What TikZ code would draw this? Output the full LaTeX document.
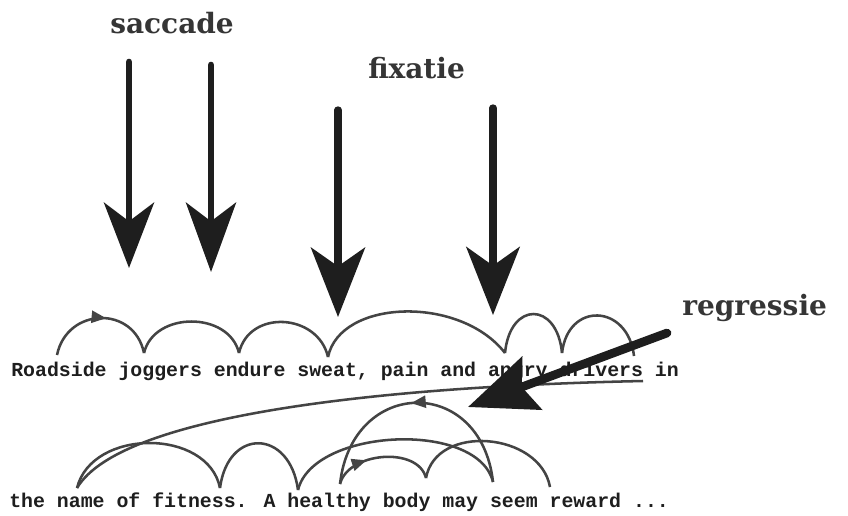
\documentclass[tikz,border=0pt]{standalone}
\usepackage{fontspec}
\setmainfont{DejaVu Serif}
\newfontfamily\typew{Liberation Mono}
\usetikzlibrary{arrows.meta,calc,decorations.markings}
\definecolor{ink}{HTML}{1E1E1E}
\definecolor{pencil}{HTML}{444444}
\newcommand\hoparc[5][]{%
  \draw[hopline,#1] (#2) .. controls ($(#2)+#4$) and ($(#3)+#5$) .. (#3);}
\begin{document}
\begin{tikzpicture}[x=0.75pt,y=-0.75pt,
  bigarrow/.style={draw=ink, line width=5pt, line cap=round, -{Stealth[length=50pt,width=38pt,inset=14pt]}},
  hopline/.style={draw=pencil, line width=1.9pt},
  tag/.style={font=\bfseries\fontsize{21}{21}\selectfont, text=ink!90, inner sep=0pt, anchor=base west},
  typed/.style={font=\typew\bfseries\fontsize{14.9}{15}\selectfont, text=ink, inner sep=0pt, anchor=base west},
  markfwd/.style={postaction={decorate}, decoration={markings, mark=at position #1 with {\arrow{Triangle[length=11pt,width=9pt]}}}}]
\useasboundingbox (0,0) rectangle (848,515);
\fill[white] (0,0) rectangle (848,515);

% labels
\node[tag] (sac) at (110,33) {saccade};
\node[tag] (fix) at (368,78) {fixatie};
\node[tag] (reg) at (682,315) {regressie};

% typed text
\node[typed] (l1) at (11,376) {Roadside joggers endure sweat, pain and angry drivers in};
\node[typed] (l2) at (9,507) {the name of fitness. A healthy body may seem reward ...};

% line 1 landing points
\coordinate (a0) at (57,355);
\coordinate (a1) at (144,353);
\coordinate (a2) at (239,353);
\coordinate (a3) at (328,357);
\coordinate (a4) at (505,353);
\coordinate (a5) at (562,353);
\coordinate (a6) at (634,356);

\hoparc[markfwd=0.55]{a0}{a1}{(10,-48)}{(-10,-48)}
\hoparc{a1}{a2}{(10,-42)}{(-10,-42)}
\hoparc{a2}{a3}{(10,-44)}{(-10,-44)}
\hoparc{a3}{a4}{(12,-58)}{(-45,-58)}
\hoparc{a4}{a5}{(5,-52)}{(-5,-52)}
\hoparc{a5}{a6}{(6,-52)}{(-6,-52)}

% line 2 landing points
\coordinate (b0) at (77,488);
\coordinate (b1) at (220,488);
\coordinate (b2) at (298,490);
\coordinate (b3) at (493,482);
\coordinate (c0) at (340,484);
\coordinate (c1) at (426,478);
\coordinate (c2) at (550,487);

\hoparc{b0}{b1}{(15,-60)}{(-12,-60)}
\hoparc{b1}{b2}{(8,-61)}{(-8,-61)}
\hoparc{b2}{b3}{(15,-62)}{(-15,-62)}
\hoparc[markfwd=0.52]{b3}{c0}{(-12,-107)}{(12,-107)}
\hoparc[markfwd=0.35]{c0}{c1}{(8,-32)}{(-8,-32)}
\hoparc{c1}{c2}{(10,-55)}{(-10,-55)}

% return sweep
\coordinate (rs) at (643,381);
\draw[hopline] (rs) .. controls (400,386) and (122,412) .. (b0);

% saccade / fixation arrows
\coordinate (s1t) at (129,62);  \coordinate (s1h) at (129,268);
\coordinate (s2t) at (211,65);  \coordinate (s2h) at (211,272);
\coordinate (f1t) at (338,110); \coordinate (f1h) at (338,317);
\coordinate (f2t) at (493,108); \coordinate (f2h) at (493,315);
\draw[bigarrow, -{Stealth[length=49pt,width=37.5pt,inset=14pt]}] (s1t) -- (s1h);
\draw[bigarrow, -{Stealth[length=52pt,width=37.5pt,inset=14pt]}] (s2t) -- (s2h);
\draw[bigarrow, line width=5.5pt, -{Stealth[length=52pt,width=40.5pt,inset=14pt]}] (f1t) -- (f1h);
\draw[bigarrow, line width=5.5pt, -{Stealth[length=51pt,width=40pt,inset=14pt]}] (f2t) -- (f2h);

% regression arrow
\coordinate (rt) at (667,333); \coordinate (rh) at (468,407);
\draw[bigarrow, line width=6.5pt, -{Stealth[length=51pt,width=42pt,inset=8pt]}] (rt) -- (rh);
\end{tikzpicture}
\end{document}
